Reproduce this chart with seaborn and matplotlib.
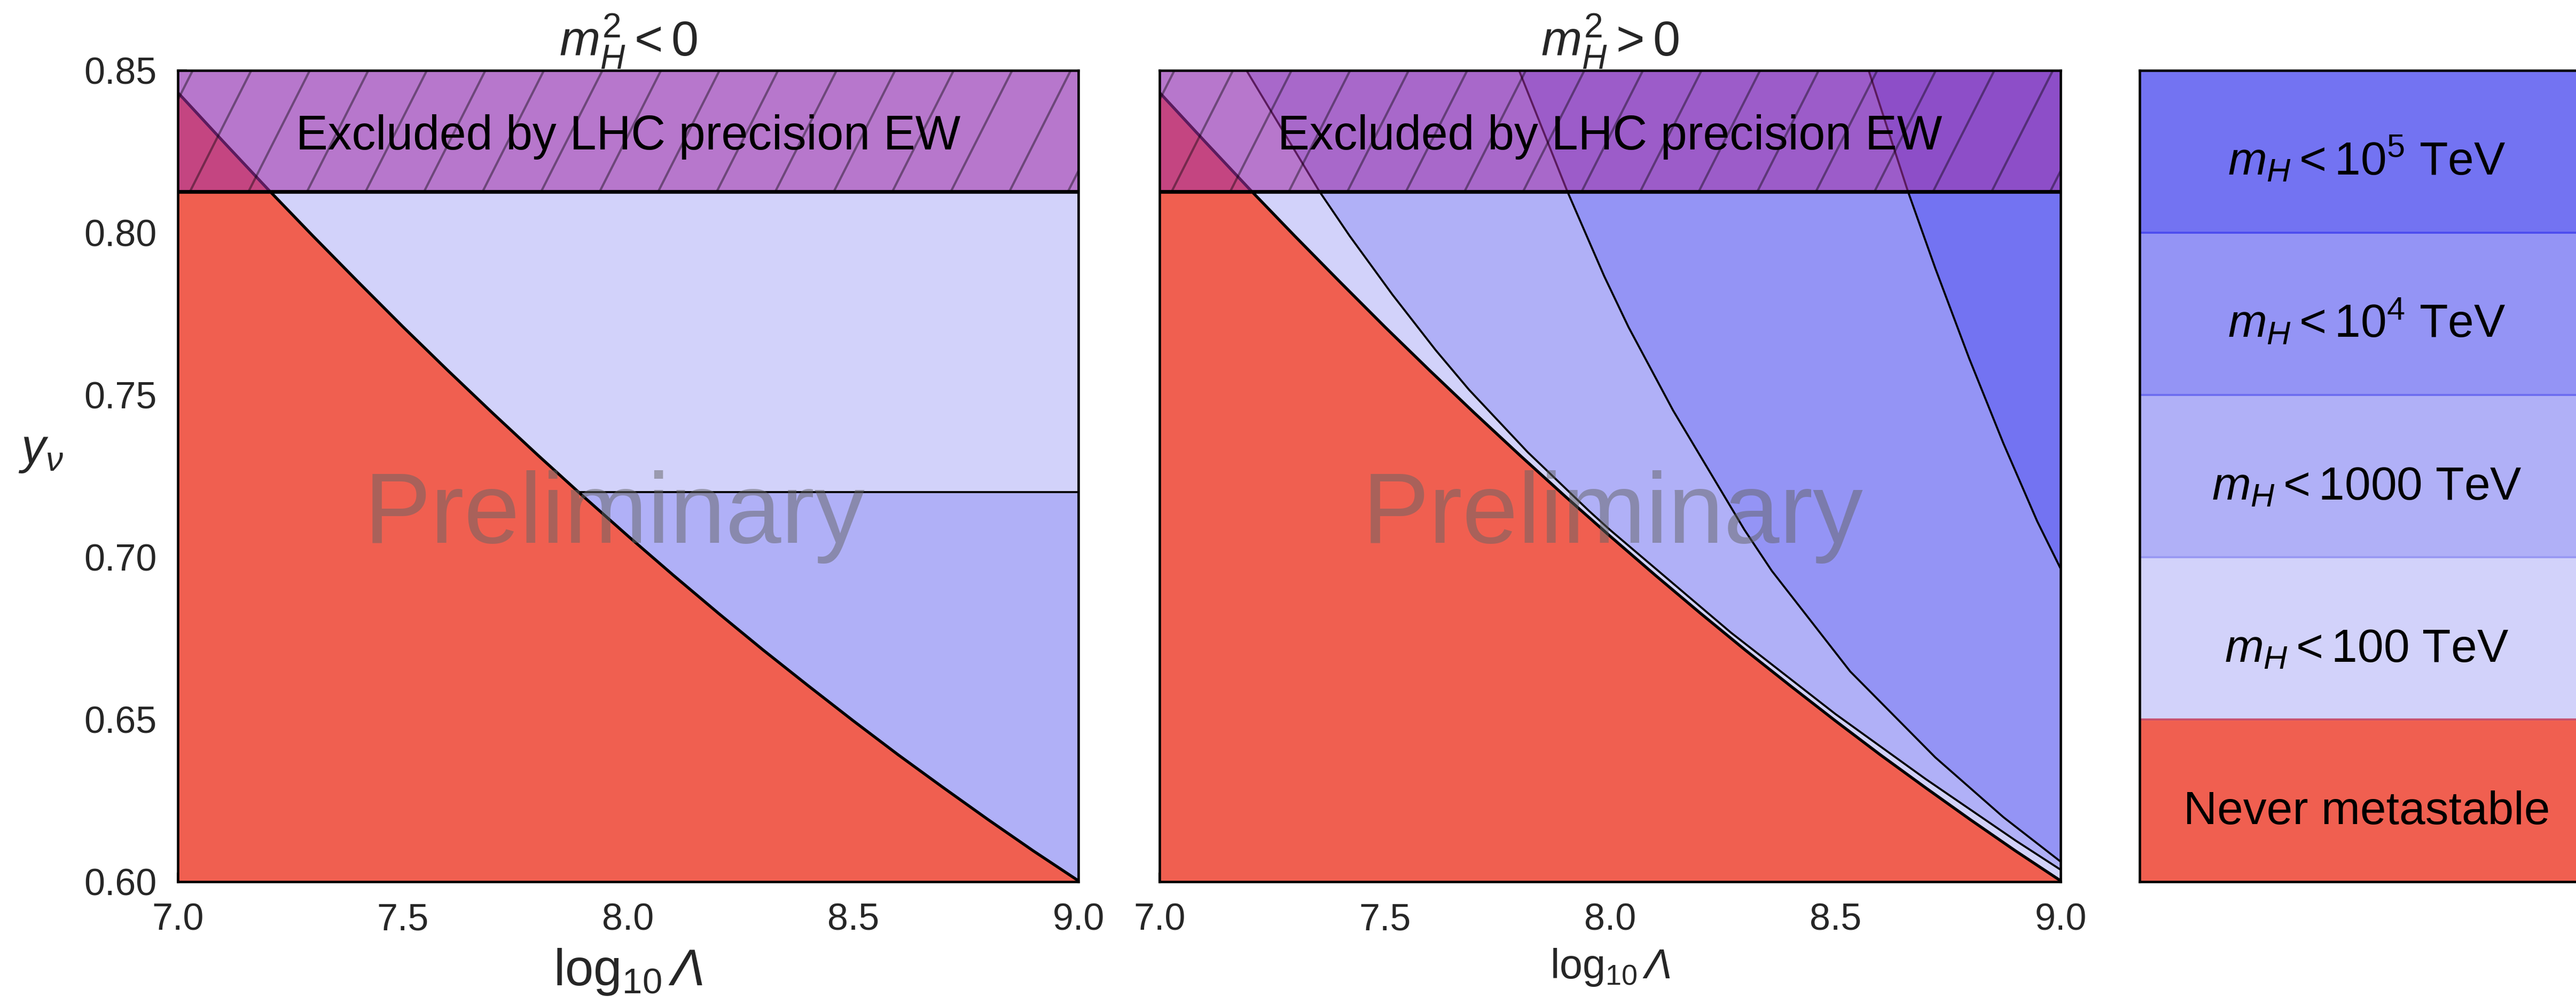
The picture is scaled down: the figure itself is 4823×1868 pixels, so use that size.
import numpy as np
import matplotlib
matplotlib.use("Agg")
import matplotlib.pyplot as plt
import seaborn as sns

# ---------------- data ----------------
x_limits = [7.0, 9.0]
y_limits = [0.60, 0.85]
x_ticks = [7.0, 7.5, 8.0, 8.5, 9.0]
y_ticks = [0.60, 0.65, 0.70, 0.75, 0.80, 0.85]

# boundary of the "never metastable" region (same in both panels)
never_x = [7.0, 7.1, 7.2, 7.3, 7.4, 7.5, 7.6, 7.7, 7.8, 7.9, 8.0,
           8.1, 8.2, 8.3, 8.4, 8.5, 8.6, 8.7, 8.8, 8.9, 9.0]
never_y = [0.8432, 0.8282, 0.8134, 0.7990, 0.7849, 0.7710, 0.7575, 0.7443, 0.7314, 0.7188, 0.7065,
           0.6945, 0.6828, 0.6714, 0.6604, 0.6496, 0.6391, 0.6290, 0.6191, 0.6095, 0.6003]

# LHC precision EW exclusion
ew_limit = 0.8127

# m_H^2 < 0 : m_H < 100 TeV above this y_nu
neg_mh100_level = 0.72

# m_H^2 > 0 contours
mh100_x = [7.193, 7.355, 7.422, 7.517, 7.613, 7.687, 7.817, 7.953, 8.0, 8.268, 8.5, 8.7, 8.9, 9.0]
mh100_y = [0.85, 0.8127, 0.7990, 0.7809, 0.7638, 0.7516, 0.7324, 0.7143, 0.7084, 0.6768, 0.6517,
           0.6317, 0.6127, 0.6037]
mh1000_x = [7.798, 7.905, 7.987, 8.041, 8.140, 8.298, 8.359, 8.533, 8.722, 8.873, 9.0]
mh1000_y = [0.85, 0.8128, 0.7866, 0.7709, 0.7452, 0.7085, 0.6958, 0.6648, 0.6383, 0.6199, 0.6062]
mh1e4_x = [8.574, 8.661, 8.722, 8.797, 8.873, 8.948, 9.0]
mh1e4_y = [0.85, 0.8128, 0.7890, 0.7613, 0.7351, 0.7111, 0.6965]

panel_titles = [r"$m_H^2 < 0$", r"$m_H^2 > 0$"]
x_label = r"$\log_{10}\mathcal{\Lambda}$"
y_label = r"$y_\nu$"
excluded_text = "Excluded by LHC precision EW"
watermark = "Preliminary"

legend_labels = [r"$m_H < 10^5$ TeV", r"$m_H < 10^4$ TeV", r"$m_H < 1000$ TeV",
                 r"$m_H < 100$ TeV", "Never metastable"]
legend_colors = ["#7373F2", "#9494F5", "#B0B0F7", "#D2D2FA", "#F05F50"]
legend_separators = ["#4C4CEE", "#6C6CF0", "#9898F3", "#C8506E"]

C_E5, C_E4, C_1000, C_100, C_RED = legend_colors
OVERLAY = (163 / 255, 49 / 255, 168 / 255)
WATERMARK_GRAY = (100 / 255, 100 / 255, 100 / 255)

# hatch geometry (in data units)
hatch_spacing = 0.13
hatch_run = 0.136
hatch_phase = 7.027

# ---------------- style ----------------
sns.set_theme(style="ticks")
plt.rcParams.update({
    "font.family": ["Liberation Sans", "DejaVu Sans"],
    "mathtext.fontset": "custom",
    "mathtext.rm": "Liberation Sans",
    "mathtext.it": "Liberation Sans:italic",
    "mathtext.bf": "Liberation Sans:bold",
    "mathtext.sf": "Liberation Sans",
    "mathtext.cal": "Liberation Sans:italic",
    "axes.linewidth": 1.1,
    "axes.edgecolor": "black",
})

fig = plt.figure(figsize=(16.08, 6.2267), dpi=300)
ax1 = fig.add_axes([0.06903, 0.11563, 0.34950, 0.81370])
ax2 = fig.add_axes([0.45004, 0.11563, 0.34971, 0.81370])
axl = fig.add_axes([0.83043, 0.11563, 0.1762, 0.81370])

bottom, top = y_limits


def finish_panel(ax, title, show_y):
    # excluded band overlay + hatch
    ax.axhspan(ew_limit, top, facecolor=OVERLAY, alpha=0.56, lw=0, zorder=5)
    for x0 in np.arange(hatch_phase - 2 * hatch_spacing, x_limits[1] + hatch_spacing, hatch_spacing):
        ax.plot([x0, x0 + hatch_run], [ew_limit, top], color="black", alpha=0.4,
                lw=1.0, zorder=6, solid_capstyle="butt")
    ax.axhline(ew_limit, color="black", lw=1.7, zorder=7)
    ax.text(np.mean(x_limits), 0.8257, excluded_text, ha="center", va="baseline",
            fontsize=21.5, color="black", zorder=8)
    ax.set_xlim(x_limits)
    ax.set_ylim(y_limits)
    ax.set_xticks(x_ticks)
    ax.set_xticklabels([f"{v:.1f}" for v in x_ticks])
    ax.tick_params(axis="x", direction="in", length=4, width=1, labelsize=16.8, pad=9.5,
                   top=False, bottom=True)
    if show_y:
        ax.set_yticks(y_ticks)
        ax.set_yticklabels([f"{v:.2f}" for v in y_ticks])
        ax.tick_params(axis="y", direction="in", length=4, width=1, labelsize=16.8, pad=9.5,
                       left=True, right=False)
    else:
        ax.set_yticks([])
    for sp in ax.spines.values():
        sp.set_visible(True)
        sp.set_color("black")
        sp.set_linewidth(1.1)
        sp.set_zorder(10)
    ax.set_title(title, fontsize=22, pad=1)


# ---------- left panel: m_H^2 < 0 ----------
ax1.fill_between(x_limits, bottom, top, color=C_1000, lw=0, zorder=1)
ax1.fill_between(x_limits, neg_mh100_level, top, color=C_100, lw=0, zorder=1.1)
ax1.fill_between(never_x, bottom, never_y, color=C_RED, lw=0, zorder=1.2)
cross_x = np.interp(neg_mh100_level, never_y[::-1], never_x[::-1])
ax1.hlines(neg_mh100_level, cross_x, x_limits[1], color="black", lw=0.9, zorder=3)
sns.lineplot(x=never_x, y=never_y, ax=ax1, color="black", lw=1.3, sort=False,
             estimator=None, zorder=4)
ax1.text(7.97, 0.7044, watermark, ha="center", va="baseline", fontsize=45,
         color=WATERMARK_GRAY, alpha=0.5, zorder=9)
finish_panel(ax1, panel_titles[0], True)
ax1.set_xlabel(x_label, fontsize=23)
ax1.xaxis.set_label_coords(0.5, -0.08)
ax1.xaxis.label.set_va("top")
ax1.set_ylabel(y_label, fontsize=22, rotation=0, ha="center", va="center")
ax1.yaxis.set_label_coords(-0.152, 0.53)

# ---------- right panel: m_H^2 > 0 ----------
ax2.fill_between(x_limits, bottom, top, color=C_100, lw=0, zorder=1)
ax2.fill_between(mh100_x, mh100_y, top, color=C_1000, lw=0, zorder=1.1)
ax2.fill_between(mh1000_x, mh1000_y, top, color=C_E4, lw=0, zorder=1.2)
ax2.fill_between(mh1e4_x, mh1e4_y, top, color=C_E5, lw=0, zorder=1.3)
ax2.fill_between(never_x, bottom, never_y, color=C_RED, lw=0, zorder=1.4)
for cx, cy in [(mh100_x, mh100_y), (mh1000_x, mh1000_y), (mh1e4_x, mh1e4_y)]:
    sns.lineplot(x=cx, y=cy, ax=ax2, color="black", lw=0.9, sort=False,
                 estimator=None, zorder=3)
sns.lineplot(x=never_x, y=never_y, ax=ax2, color="black", lw=1.3, sort=False,
             estimator=None, zorder=4)
ax2.text(8.006, 0.7044, watermark, ha="center", va="baseline", fontsize=45,
         color=WATERMARK_GRAY, alpha=0.5, zorder=9)
finish_panel(ax2, panel_titles[1], False)
ax2.set_xlabel(x_label, fontsize=18.5)
ax2.xaxis.set_label_coords(0.5, -0.08)
ax2.xaxis.label.set_va("top")
ax2.set_ylabel("")

# ---------- legend strip ----------
n = len(legend_labels)
pos = np.arange(n)[::-1] + 0.5
axl.barh(pos, width=1.0, height=1.0, left=0.0, color=legend_colors, lw=0)
for y_sep, c in zip(np.arange(n - 1, 0, -1), legend_separators):
    axl.axhline(y_sep, color=c, lw=0.9, zorder=3)
for p, lab in zip(pos, legend_labels):
    axl.text(0.5, p - 0.145, lab, ha="center", va="baseline", fontsize=21, color="black", zorder=4)
axl.set_xlim(0, 1)
axl.set_ylim(0, n)
axl.set_xticks([])
axl.set_yticks([])
for name, sp in axl.spines.items():
    sp.set_visible(name != "right")
    sp.set_color("black")
    sp.set_linewidth(1.1)
    sp.set_zorder(10)

fig.savefig("out.png", dpi=300, facecolor="white")
